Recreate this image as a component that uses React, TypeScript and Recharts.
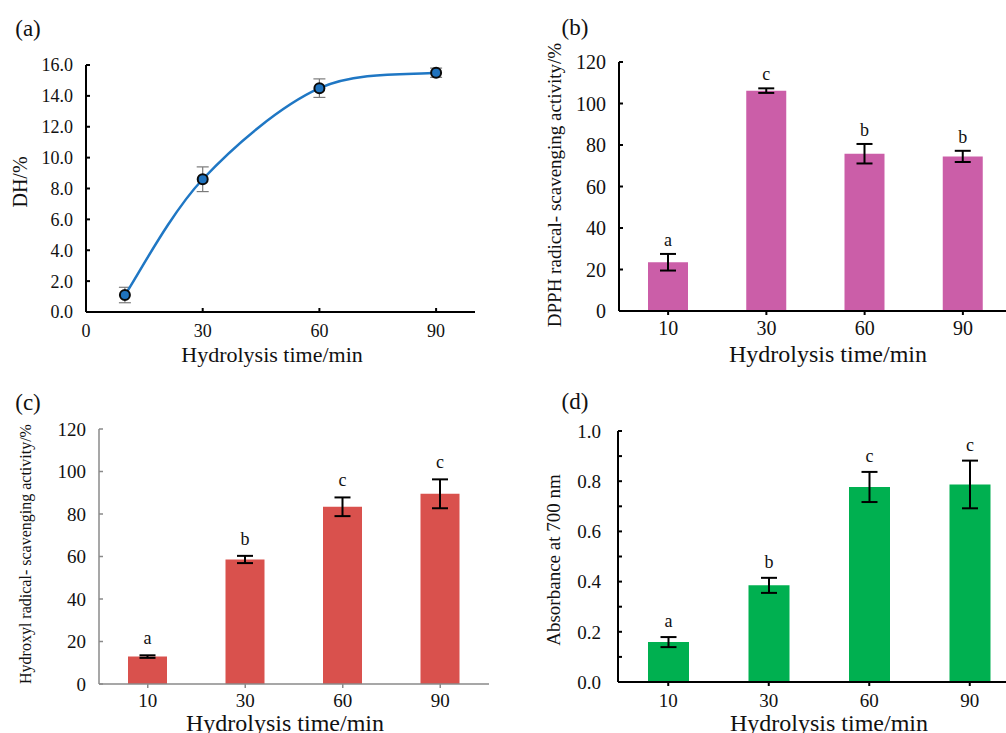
import React from "react";
import { Bar, BarChart, ComposedChart, ErrorBar, LabelList, Line, XAxis, YAxis } from "recharts";

const FONT = '"Liberation Serif", "Times New Roman", serif';

// (a) degree of hydrolysis
const dhTimes = [10, 30, 60, 90];
const dhValues = [1.1, 8.6, 14.5, 15.5];
const dhErrors = [0.5, 0.8, 0.6, 0.3];
const dhTicksX = [0, 30, 60, 90];
const dhTicksY = [0, 2, 4, 6, 8, 10, 12, 14, 16];

// bar panels share the time categories
const timeCategories = ["10", "30", "60", "90"];

// (b) DPPH
const dpphValues = [23.5, 106.2, 75.8, 74.5];
const dpphErrors = [4.0, 1.1, 4.7, 2.7];
const dpphLetters = ["a", "c", "b", "b"];
const dpphTicks = [0, 20, 40, 60, 80, 100, 120];

// (c) hydroxyl
const hydroxylValues = [12.9, 58.6, 83.4, 89.5];
const hydroxylErrors = [0.6, 1.7, 4.4, 6.8];
const hydroxylLetters = ["a", "b", "c", "c"];
const hydroxylTicks = [0, 20, 40, 60, 80, 100, 120];

// (d) reducing power
const absValues = [0.159, 0.385, 0.777, 0.787];
const absErrors = [0.02, 0.03, 0.06, 0.095];
const absLetters = ["a", "b", "c", "c"];
const absTicks = [0, 0.1, 0.2, 0.3, 0.4, 0.5, 0.6, 0.7, 0.8, 0.9, 1.0];

const dhData = dhTimes.map((t, i) => ({ t, dh: dhValues[i], err: dhErrors[i] }));

const barRows = (values: number[], errors: number[], letters: string[]) =>
  timeCategories.map((time, i) => ({ time, value: values[i], err: errors[i], sig: letters[i] }));

// Excel-style smoothed line (cardinal bezier through the points)
function smoothCurve(context: any) {
  let pts: number[][] = [];
  return {
    areaStart() {},
    areaEnd() {},
    lineStart() {
      pts = [];
    },
    point(x: number, y: number) {
      pts.push([+x, +y]);
    },
    lineEnd() {
      if (!pts.length) return;
      context.moveTo(pts[0][0], pts[0][1]);
      for (let i = 0; i < pts.length - 1; i++) {
        const p0 = pts[i - 1] || pts[i];
        const p1 = pts[i];
        const p2 = pts[i + 1];
        const p3 = pts[i + 2] || p2;
        context.bezierCurveTo(
          p1[0] + (p2[0] - p0[0]) / 6,
          p1[1] + (p2[1] - p0[1]) / 6,
          p2[0] - (p3[0] - p1[0]) / 6,
          p2[1] - (p3[1] - p1[1]) / 6,
          p2[0],
          p2[1]
        );
      }
    },
  };
}

const Txt = ({ x, y, size, rotate = 0, children }: any) => (
  <div
    style={{
      position: "absolute",
      left: x,
      top: y,
      transform: `translate(-50%, -50%) rotate(${rotate}deg)`,
      fontFamily: FONT,
      fontSize: size,
      lineHeight: 1,
      whiteSpace: "nowrap",
      color: "#111",
    }}
  >
    {children}
  </div>
);

const sigLabel = (values: number[], errors: number[], gap: number) => (props: any) => {
  const vb = props.viewBox || props;
  const x = Number(vb.x);
  const y = Number(vb.y);
  const w = Number(vb.width);
  const h = Number(vb.height);
  const i = props.index ?? 0;
  const errPx = (errors[i] / values[i]) * h;
  return (
    <text x={x + w / 2} y={y - errPx - gap} textAnchor="middle" fontFamily={FONT} fontSize={18} fill="#111">
      {props.value}
    </text>
  );
};

type BarPanelProps = {
  left: number;
  top: number;
  width: number;
  height: number;
  margin: { top: number; right: number; bottom: number; left: number };
  yWidth: number;
  values: number[];
  errors: number[];
  letters: string[];
  ticks: number[];
  color: string;
  barSize: number;
  fontSize: number;
  formatY: (v: number) => string;
  yTickMargin: number;
  xTickMargin: number;
  letterGap: number;
  axisColor?: string;
  axisWidth?: number;
  rightBorder?: boolean;
};

function BarPanel(p: BarPanelProps) {
  const data = barRows(p.values, p.errors, p.letters);
  const tickStyle = { fontFamily: FONT, fontSize: p.fontSize, fill: "#111" };
  const axisStyle = { stroke: p.axisColor || "#000", strokeWidth: p.axisWidth || 2 };
  const border = { stroke: "#000", strokeWidth: 2 };
  return (
    <div style={{ position: "absolute", left: p.left, top: p.top }}>
      <BarChart width={p.width} height={p.height} data={data} margin={p.margin}>
        <XAxis xAxisId="top" orientation="top" dataKey="time" height={0} tick={false} tickLine={false} axisLine={border} />
        {p.rightBorder && (
          <YAxis yAxisId="right" orientation="right" width={0} tick={false} tickLine={false} axisLine={border} />
        )}
        <XAxis
          dataKey="time"
          height={30}
          tick={tickStyle}
          tickSize={4}
          tickMargin={p.xTickMargin}
          axisLine={axisStyle}
          tickLine={axisStyle}
        />
        <YAxis
          width={p.yWidth}
          domain={[p.ticks[0], p.ticks[p.ticks.length - 1]]}
          ticks={p.ticks}
          interval={0}
          tick={tickStyle}
          tickFormatter={p.formatY}
          tickSize={-4}
          tickMargin={p.yTickMargin}
          tickLine={axisStyle}
          axisLine={axisStyle}
        />
        <Bar dataKey="value" fill={p.color} barSize={p.barSize} isAnimationActive={false}>
          <ErrorBar dataKey="err" width={8} stroke="#000" strokeWidth={2} direction="y" />
          <LabelList dataKey="sig" content={sigLabel(p.values, p.errors, p.letterGap)} />
        </Bar>
      </BarChart>
    </div>
  );
}

export default function App() {
  const tickA = { fontFamily: FONT, fontSize: 18, fill: "#111" };
  const axisA = { stroke: "#000", strokeWidth: 2 };
  return (
    <div
      style={{
        position: "fixed",
        left: 0,
        top: 0,
        width: 1006,
        height: 733,
        overflow: "hidden",
        background: "#fff",
      }}
    >
      {/* (a) */}
      <div style={{ position: "absolute", left: 0, top: 0 }}>
        <ComposedChart width={500} height={370} data={dhData} margin={{ top: 65, right: 25, bottom: 28, left: 0 }}>
          <XAxis
            dataKey="t"
            type="number"
            domain={[0, 100]}
            ticks={dhTicksX}
            height={30}
            tick={tickA}
            tickSize={-4}
            tickMargin={16}
            axisLine={axisA}
            tickLine={axisA}
          />
          <XAxis xAxisId="top" orientation="top" dataKey="t" type="number" domain={[0, 100]} height={0} tick={false} tickLine={false} axisLine={axisA} />
          <YAxis
            width={86}
            domain={[0, 16]}
            ticks={dhTicksY}
            interval={0}
            tick={tickA}
            tickFormatter={(v: number) => v.toFixed(1)}
            tickSize={-4}
            tickMargin={17}
            axisLine={axisA}
            tickLine={axisA}
          />
          <YAxis yAxisId="right" orientation="right" width={0} tick={false} tickLine={false} axisLine={axisA} />
          <Line
            type={smoothCurve as any}
            dataKey="dh"
            stroke="#1f77c4"
            strokeWidth={2.5}
            dot={{ r: 5, fill: "#1f72bd", stroke: "#0a0a0a", strokeWidth: 2 }}
            isAnimationActive={false}
          >
            <ErrorBar dataKey="err" width={6} stroke="#7a7a7a" strokeWidth={1.2} direction="y" />
          </Line>
        </ComposedChart>
      </div>

      <BarPanel
        left={500}
        top={0}
        width={520}
        height={370}
        margin={{ top: 62, right: 8, bottom: 29, left: 0 }}
        yWidth={119}
        values={dpphValues}
        errors={dpphErrors}
        letters={dpphLetters}
        ticks={dpphTicks}
        color="#cb5ea8"
        barSize={40}
        fontSize={20}
        formatY={(v) => String(v)}
        yTickMargin={17}
        xTickMargin={6}
        letterGap={8}
      />

      <BarPanel
        left={0}
        top={370}
        width={500}
        height={363}
        margin={{ top: 59, right: 11, bottom: 19, left: 0 }}
        yWidth={99}
        values={hydroxylValues}
        errors={hydroxylErrors}
        letters={hydroxylLetters}
        ticks={hydroxylTicks}
        color="#d9514d"
        barSize={39}
        fontSize={19}
        formatY={(v) => String(v)}
        yTickMargin={17}
        xTickMargin={6}
        letterGap={11}
        axisColor="#8a8a8a"
        axisWidth={1.5}
        rightBorder
      />

      <BarPanel
        left={500}
        top={370}
        width={530}
        height={363}
        margin={{ top: 61, right: 10, bottom: 21, left: 0 }}
        yWidth={118}
        values={absValues}
        errors={absErrors}
        letters={absLetters}
        ticks={absTicks}
        color="#00b050"
        barSize={41}
        fontSize={19}
        formatY={(v) => (Math.round(v * 10) % 2 === 0 ? v.toFixed(1) : "")}
        yTickMargin={21}
        xTickMargin={8}
        letterGap={10}
      />

      <Txt x={28} y={28} size={23}>(a)</Txt>
      <Txt x={575} y={27} size={23}>(b)</Txt>
      <Txt x={28} y={402} size={23}>(c)</Txt>
      <Txt x={575} y={401} size={23}>(d)</Txt>

      <Txt x={20} y={182} size={20} rotate={-90}>DH/%</Txt>
      <Txt x={272} y={355} size={22}>Hydrolysis time/min</Txt>

      <Txt x={554} y={185} size={19} rotate={-90}>DPPH radical- scavenging activity/%</Txt>
      <Txt x={828} y={354} size={24}>Hydrolysis time/min</Txt>

      <Txt x={26} y={554} size={16} rotate={-90}>Hydroxyl radical- scavenging activity/%</Txt>
      <Txt x={285} y={723} size={24}>Hydrolysis time/min</Txt>

      <Txt x={553} y={560} size={19} rotate={-90}>Absorbance at 700 nm</Txt>
      <Txt x={829} y={723} size={24}>Hydrolysis time/min</Txt>
    </div>
  );
}
